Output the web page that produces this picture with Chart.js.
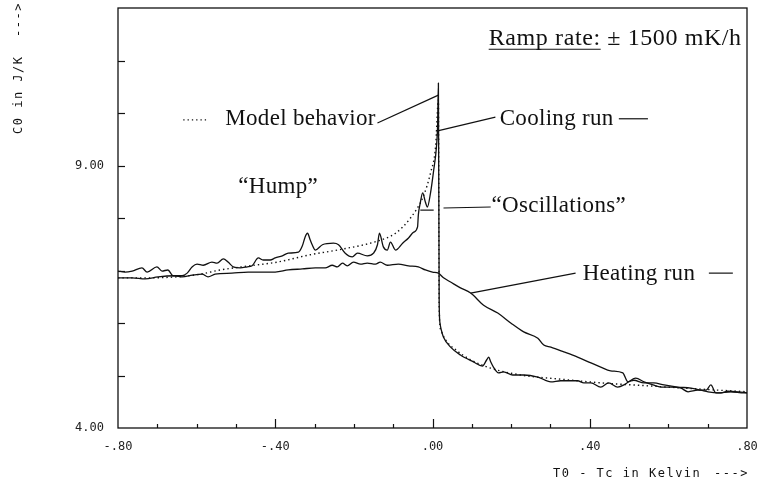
<!DOCTYPE html>
<html>
<head>
<meta charset="utf-8">
<script src="https://cdn.jsdelivr.net/npm/chart.js@4"></script>
<style>
  html, body { margin: 0; padding: 0; background: #fff; }
  canvas { display: block; }
</style>
</head>
<body>
<canvas id="graph" width="762" height="485"></canvas>
<script>
// data: temperature T0 - Tc (K) and C0 (J/K)
let coolingX = [-0.800,-0.782,-0.764,-0.739,-0.726,-0.701,-0.688,-0.673,-0.660,-0.637,-0.624,-0.611,-0.599,-0.583,-0.561,-0.548,-0.532,-0.520,-0.507,-0.489,-0.471,-0.459,-0.443,-0.431,-0.413,-0.400,-0.382,-0.367,-0.341,-0.331,-0.324,-0.318,-0.311,-0.306,-0.298,-0.280,-0.252,-0.239,-0.222,-0.204,-0.191,-0.166,-0.150,-0.140,-0.135,-0.125,-0.115,-0.107,-0.094,-0.076,-0.061,-0.048,-0.038,-0.036,-0.031,-0.025,-0.018,-0.013,-0.005,0.003,0.010,0.013,0.015,0.017,0.019,0.023,0.028,0.046,0.071,0.104,0.127,0.138,0.143,0.148,0.155,0.168,0.181,0.204,0.232,0.268,0.301,0.326,0.369,0.385,0.403,0.428,0.448,0.471,0.487,0.499,0.517,0.538,0.561,0.581,0.606,0.632,0.650,0.675,0.696,0.708,0.721,0.734,0.751,0.777,0.800];
let coolingY = [6.99,6.97,6.99,7.05,6.97,7.07,6.99,7.01,6.90,6.90,6.95,7.07,7.12,7.10,7.16,7.14,7.22,7.16,7.07,7.05,7.07,7.09,7.24,7.20,7.20,7.24,7.28,7.33,7.35,7.47,7.64,7.71,7.58,7.49,7.39,7.49,7.52,7.49,7.33,7.26,7.33,7.28,7.33,7.49,7.71,7.45,7.39,7.54,7.39,7.52,7.62,7.73,7.83,8.06,8.29,8.48,8.30,8.21,8.48,8.91,9.35,9.77,10.57,6.40,6.00,5.85,5.73,5.54,5.39,5.26,5.18,5.30,5.35,5.26,5.16,5.05,5.07,5.01,5.01,4.97,4.88,4.90,4.90,4.86,4.86,4.78,4.86,4.78,4.82,4.88,4.95,4.88,4.82,4.78,4.78,4.76,4.69,4.72,4.72,4.82,4.67,4.67,4.70,4.69,4.67];

let heatingX = [-0.800,-0.764,-0.731,-0.698,-0.655,-0.637,-0.611,-0.586,-0.571,-0.553,-0.510,-0.469,-0.425,-0.400,-0.367,-0.331,-0.298,-0.273,-0.255,-0.242,-0.229,-0.217,-0.201,-0.183,-0.166,-0.145,-0.133,-0.115,-0.087,-0.061,-0.036,-0.018,0.000,0.015,0.028,0.046,0.071,0.097,0.130,0.166,0.199,0.232,0.268,0.283,0.301,0.334,0.369,0.403,0.428,0.453,0.484,0.497,0.512,0.538,0.563,0.589,0.624,0.657,0.683,0.701,0.726,0.759,0.792,0.800];
let heatingY = [6.86,6.86,6.84,6.88,6.90,6.88,6.91,6.93,6.88,6.93,6.95,6.97,6.97,6.97,7.01,7.03,7.05,7.05,7.10,7.07,7.14,7.09,7.16,7.12,7.14,7.12,7.16,7.10,7.12,7.09,7.07,7.01,6.97,6.95,6.86,6.78,6.67,6.57,6.34,6.19,6.00,5.83,5.71,5.58,5.54,5.45,5.35,5.24,5.16,5.09,5.05,4.88,4.91,4.86,4.86,4.82,4.78,4.76,4.72,4.69,4.67,4.69,4.67,4.67];

let modelX = [-0.800,-0.718,-0.650,-0.591,-0.540,-0.464,-0.395,-0.311,-0.227,-0.140,-0.094,-0.056,-0.023,-0.005,0.008,0.015,0.017,0.021,0.033,0.059,0.097,0.148,0.224,0.326,0.428,0.555,0.683,0.800];
let modelY = [6.86,6.86,6.88,6.93,7.01,7.09,7.16,7.30,7.41,7.56,7.71,8.00,8.42,8.86,9.37,10.25,6.30,5.87,5.68,5.49,5.30,5.14,5.01,4.93,4.86,4.80,4.74,4.69];

let xTickLabels = { '-8': '-.80', '-4': '-.40', '0': '.00', '4': '.40', '8': '.80' };
let yTickLabels = { 4: '4.00', 9: '9.00' };

let toPoints = (xs, ys) => xs.map((x, i) => ({ x: x, y: ys[i] }));

// leader lines and labels, in data units
let labels = [
  { text: 'Model behavior', x: -0.527, y: 9.77 },
  { text: 'Cooling run', x: 0.171, y: 9.77 },
  { text: '\u201CHump\u201D', x: -0.494, y: 8.48 },
  { text: '\u201COscillations\u201D', x: 0.150, y: 8.11 },
  { text: 'Heating run', x: 0.382, y: 6.82 }
];
let leaders = [
  [-0.140, 9.81, 0.015, 10.34],
  [0.013, 9.66, 0.160, 9.92],
  [0.474, 9.89, 0.548, 9.89],
  [-0.031, 8.15, 0.003, 8.15],
  [0.028, 8.19, 0.148, 8.21],
  [0.097, 6.57, 0.364, 6.95],
  [0.703, 6.95, 0.764, 6.95]
];

let decorations = {
  id: 'decorations',
  afterDraw(chart) {
    let ctx = chart.ctx;
    let a = chart.chartArea;
    let sx = chart.scales.x;
    let sy = chart.scales.y;
    ctx.save();
    ctx.strokeStyle = '#111';
    ctx.fillStyle = '#111';

    // frame
    ctx.lineWidth = 1.3;
    ctx.strokeRect(a.left, a.top, a.right - a.left, a.bottom - a.top);

    // inward tick marks
    ctx.lineWidth = 1.2;
    sx.ticks.forEach(t => {
      let k = Math.round(t.value * 10);
      if (Math.abs(k) === 8) return;
      let px = Math.round(sx.getPixelForValue(t.value)) + 0.5;
      let len = k % 4 === 0 ? 9 : 4;
      ctx.beginPath();
      ctx.moveTo(px, a.bottom);
      ctx.lineTo(px, a.bottom - len);
      ctx.stroke();
    });
    sy.ticks.forEach(t => {
      if (t.value <= 4 || t.value >= 12) return;
      let py = Math.round(sy.getPixelForValue(t.value)) + 0.5;
      ctx.beginPath();
      ctx.moveTo(a.left, py);
      ctx.lineTo(a.left + 7, py);
      ctx.stroke();
    });

    // labels
    ctx.font = '23px "Liberation Serif"';
    ctx.letterSpacing = '0.3px';
    ctx.textBaseline = 'alphabetic';
    ctx.textAlign = 'left';
    labels.forEach(l => {
      ctx.fillText(l.text, sx.getPixelForValue(l.x), sy.getPixelForValue(l.y));
    });
    ctx.lineWidth = 1.2;
    leaders.forEach(s => {
      ctx.beginPath();
      ctx.moveTo(sx.getPixelForValue(s[0]), sy.getPixelForValue(s[1]));
      ctx.lineTo(sx.getPixelForValue(s[2]), sy.getPixelForValue(s[3]));
      ctx.stroke();
    });
    // dotted sample in front of "Model behavior"
    ctx.setLineDash([1.3, 3]);
    ctx.beginPath();
    ctx.moveTo(sx.getPixelForValue(-0.634), sy.getPixelForValue(9.87));
    ctx.lineTo(sx.getPixelForValue(-0.573), sy.getPixelForValue(9.87));
    ctx.stroke();
    ctx.setLineDash([]);

    // ramp rate note, "Ramp rate:" underlined
    ctx.font = '24px "Liberation Serif"';
    ctx.letterSpacing = '0.6px';
    let rx = sx.getPixelForValue(0.143);
    let ry = sy.getPixelForValue(11.30);
    let part = 'Ramp rate:';
    ctx.fillText(part + ' \u00B1 1500 mK/h', rx, ry);
    let w = ctx.measureText(part).width;
    ctx.lineWidth = 1;
    ctx.beginPath();
    ctx.moveTo(rx, ry + 4.5);
    ctx.lineTo(rx + w, ry + 4.5);
    ctx.stroke();

    // axis titles
    ctx.font = '12px "DejaVu Sans Mono"';
    ctx.letterSpacing = '1.5px';
    ctx.fillText('T0 - Tc in Kelvin', 553, 477);
    ctx.fillText('--->', 714, 477);
    ctx.save();
    ctx.translate(22, 134);
    ctx.rotate(-Math.PI / 2);
    ctx.fillText('C0 in J/K', 0, 0);
    ctx.fillText('--->', 97, 0);
    ctx.restore();
    ctx.restore();
  }
};

let graphEl = document.querySelector('#graph');

let line = (data, dashed) => ({
  data: data,
  borderColor: '#111',
  borderWidth: dashed ? 1.4 : 1.3,
  borderDash: dashed ? [1.4, 3] : [],
  pointRadius: 0,
  fill: false,
  cubicInterpolationMode: 'monotone'
});

let graph = new Chart(graphEl, {
  type: 'line',
  data: {
    datasets: [
      line(toPoints(modelX, modelY), true),
      line(toPoints(heatingX, heatingY), false),
      line(toPoints(coolingX, coolingY), false)
    ]
  },
  options: {
    responsive: false,
    animation: false,
    devicePixelRatio: 1,
    layout: { padding: { top: 8, right: 15, left: 0, bottom: 0 } },
    plugins: { legend: { display: false }, tooltip: { enabled: false } },
    scales: {
      x: {
        type: 'linear',
        min: -0.8,
        max: 0.8,
        afterFit: s => { s.height = 57; s.paddingLeft = 0; s.paddingRight = 0; },
        grid: { display: false, drawTicks: false },
        border: { display: false },
        ticks: {
          stepSize: 0.1,
          autoSkip: false,
          maxRotation: 0,
          padding: 12,
          color: '#222',
          font: { family: 'DejaVu Sans Mono', size: 12 },
          callback: v => xTickLabels[String(Math.round(v * 10))] || ''
        }
      },
      y: {
        min: 4,
        max: 12,
        afterFit: s => { s.width = 118; s.paddingTop = 0; s.paddingBottom = 0; },
        grid: { display: false, drawTicks: false },
        border: { display: false },
        ticks: {
          stepSize: 1,
          padding: 14,
          color: '#222',
          font: { family: 'DejaVu Sans Mono', size: 12 },
          callback: v => yTickLabels[v] || ''
        }
      }
    }
  },
  plugins: [decorations]
});
</script>
</body>
</html>
